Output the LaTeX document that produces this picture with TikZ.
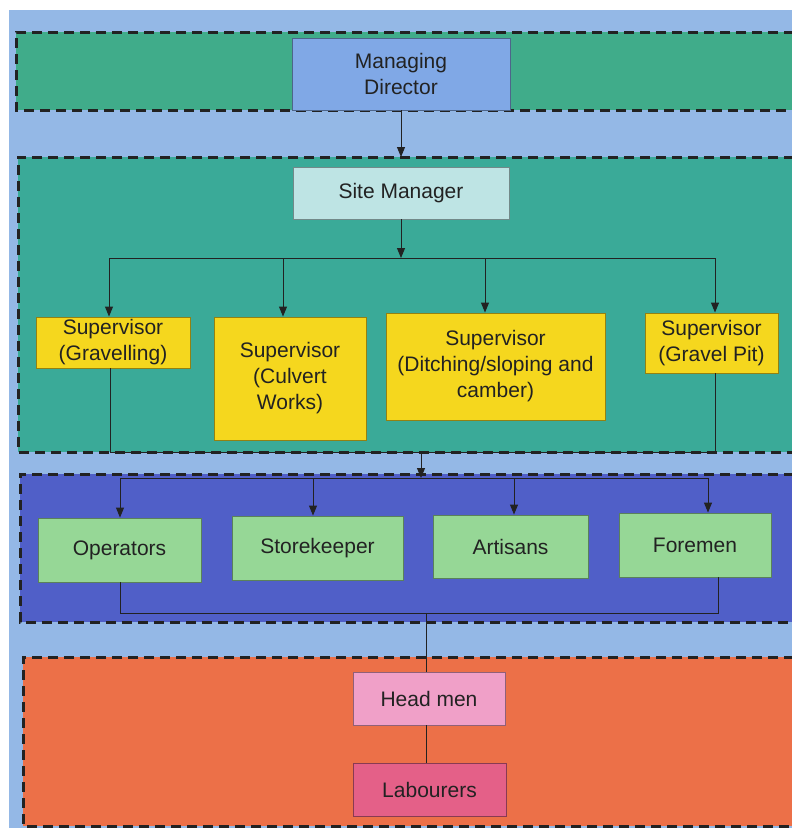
\documentclass[tikz,border=0pt]{standalone}
\usepackage{fontspec}
\setmainfont{Liberation Sans}
\usetikzlibrary{arrows.meta}
\definecolor{bgblue}{HTML}{94B8E6}
\definecolor{bandA}{HTML}{40AC8A}
\definecolor{bandB}{HTML}{3AAA98}
\definecolor{bandC}{HTML}{505FC8}
\definecolor{bandD}{HTML}{EC7048}
\definecolor{mdfill}{HTML}{80A8E6}
\definecolor{smfill}{HTML}{BEE4E4}
\definecolor{supfill}{HTML}{F5D71E}
\definecolor{grfill}{HTML}{96D796}
\definecolor{hmfill}{HTML}{F0A0C8}
\definecolor{lbfill}{HTML}{E46088}
\definecolor{ink}{HTML}{222222}
\tikzset{
  band/.style={draw=ink, line width=3pt, dash pattern=on 10pt off 6pt},
  box/.style={draw=#1!60!black, line width=0.9pt, align=center, text=ink, inner sep=2pt,
    font=\fontsize{21}{26}\selectfont},
  con/.style={draw=ink, line width=1pt},
  arr/.style={con, -{Triangle[length=10pt,width=8pt]}},
}
\begin{document}
\begin{tikzpicture}[x=1pt,y=-1pt]
\useasboundingbox (0,0) rectangle (792,828);
\clip (0,0) rectangle (792,828);
\fill[white] (0,0) rectangle (792,828);
\fill[bgblue] (9,10) rectangle (800,840);
% bands
\fill[bandA] (16,32) rectangle (810,110);
\draw[band] (810,32) -- (16,32) -- (16,110) -- (810,110);
\fill[bandB] (18,157) rectangle (810,452);
\draw[band] (810,157) -- (18,157) -- (18,452) -- (810,452);
\fill[bandC] (20,474) rectangle (810,622);
\draw[band] (810,474) -- (20,474) -- (20,622) -- (810,622);
\fill[bandD] (23,657) rectangle (810,826);
\draw[band] (810,657) -- (23,657) -- (23,826) -- (810,826);
% nodes
\node[box=mdfill, fill=mdfill, minimum width=218pt, minimum height=72pt] (md) at (401,74) {Managing\\Director};
\node[box=smfill, fill=smfill, minimum width=216pt, minimum height=52pt] (sm) at (401,193) {Site Manager};
\node[box=supfill, fill=supfill, minimum width=154pt, minimum height=51pt] (s1) at (113,342.5) {Supervisor\\(Gravelling)};
\node[box=supfill, fill=supfill, minimum width=152pt, minimum height=123pt] (s2) at (290,378.5) {Supervisor\\(Culvert\\Works)};
\node[box=supfill, fill=supfill, minimum width=219pt, minimum height=107pt] (s3) at (495.5,366.5) {Supervisor\\(Ditching/sloping and\\camber)};
\node[box=supfill, fill=supfill, minimum width=133pt, minimum height=60pt] (s4) at (711.5,343) {Supervisor\\(Gravel Pit)};
\node[box=grfill, fill=grfill, minimum width=163pt, minimum height=64pt] (op) at (119.5,550) {Operators};
\node[box=grfill, fill=grfill, minimum width=171pt, minimum height=64pt] (st) at (317.5,548) {Storekeeper};
\node[box=grfill, fill=grfill, minimum width=155pt, minimum height=63pt] (ar) at (510.5,546.5) {Artisans};
\node[box=grfill, fill=grfill, minimum width=152pt, minimum height=64pt] (fo) at (695,545) {Foremen};
\node[box=hmfill, fill=hmfill, minimum width=152pt, minimum height=53pt] (hm) at (429,698.5) {Head men};
\node[box=lbfill, fill=lbfill, minimum width=153pt, minimum height=53pt] (lb) at (429.5,789.5) {Labourers};
% coordinates
\coordinate (b2top) at (401,157);
\coordinate (busA) at (401,258);
\coordinate (bA1) at (109,258);
\coordinate (bA2) at (283,258);
\coordinate (bA3) at (485,258);
\coordinate (bA4) at (715,258);
\coordinate (lowA1) at (110,452);
\coordinate (lowA4) at (715,452);
\coordinate (midA) at (421,452);
\coordinate (busB) at (421,478);
\coordinate (bB1) at (120,478);
\coordinate (bB2) at (313,478);
\coordinate (bB3) at (514,478);
\coordinate (bB4) at (708,478);
\coordinate (lowB1) at (120,613);
\coordinate (lowB4) at (718,613);
\coordinate (midB) at (426,613);
% connectors
\draw[arr] (md.south) -- (b2top);
\draw[arr] (sm.south) -- (busA);
\draw[con] (bA1) -- (bA4);
\draw[arr] (bA1) -- (bA1 |- s1.north);
\draw[arr] (bA2) -- (bA2 |- s2.north);
\draw[arr] (bA3) -- (bA3 |- s3.north);
\draw[arr] (bA4) -- (bA4 |- s4.north);
\draw[con] (lowA1 |- s1.south) -- (lowA1) -- (lowA4) -- (lowA4 |- s4.south);
\draw[arr] (midA) -- (busB);
\draw[con] (bB1) -- (bB4);
\draw[arr] (bB1) -- (bB1 |- op.north);
\draw[arr] (bB2) -- (bB2 |- st.north);
\draw[arr] (bB3) -- (bB3 |- ar.north);
\draw[arr] (bB4) -- (bB4 |- fo.north);
\draw[con] (lowB1 |- op.south) -- (lowB1) -- (lowB4) -- (lowB4 |- fo.south);
\draw[con] (midB) -- (midB |- hm.north);
\draw[con] (midB |- hm.south) -- (midB |- lb.north);
\end{tikzpicture}
\end{document}
